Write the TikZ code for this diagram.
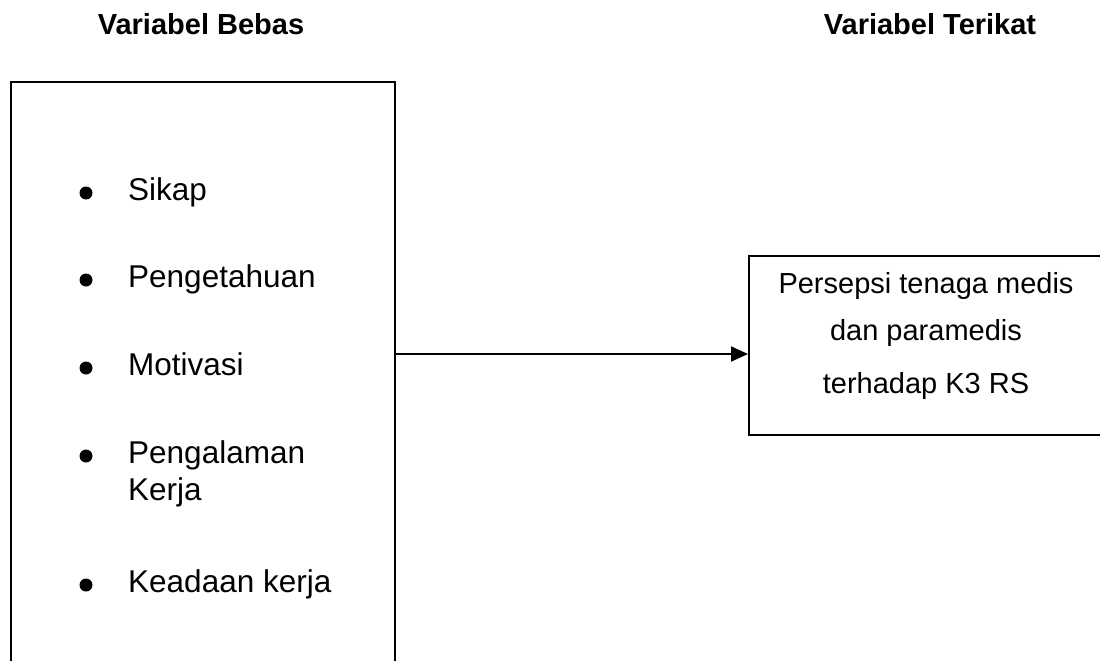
\documentclass[tikz,border=0pt]{standalone}
\usepackage{fontspec}
\setmainfont{Liberation Sans}
\usetikzlibrary{arrows.meta}
\begin{document}
\begin{tikzpicture}[x=1pt,y=-1pt,
  boxstyle/.style={draw,line width=2pt,inner sep=0pt,rectangle,anchor=north west},
  itemtext/.style={anchor=base west,inner sep=0pt,font=\fontsize{31.5}{37}\selectfont},
  bulletmark/.style={circle,fill=black,inner sep=0pt,minimum size=13pt},
  headtext/.style={anchor=base,inner sep=0pt,font=\fontsize{29}{34}\selectfont\bfseries},
  deptext/.style={anchor=base,inner sep=0pt,font=\fontsize{29}{34}\selectfont},
  arrowline/.style={line width=2pt,-{Triangle[length=17pt,width=15pt]}}]
\useasboundingbox (0,0) rectangle (1100,661);
% headers
\node[headtext] (hbebas) at (201,35) {Variabel Bebas};
\node[headtext] (hterikat) at (930,35) {Variabel Terikat};
% boxes
\node[boxstyle,minimum width=384pt,minimum height=620pt] (indep) at (10,81) {};
\node[boxstyle,minimum width=380pt,minimum height=179pt] (dep) at (748,255) {};
% bullet items
\node[bulletmark] (b1) at (86,193) {};
\node[itemtext] (t1) at (128,200) {Sikap};
\node[bulletmark] (b2) at (86,280) {};
\node[itemtext] (t2) at (128,287) {Pengetahuan};
\node[bulletmark] (b3) at (86,368) {};
\node[itemtext] (t3) at (128,375) {Motivasi};
\node[bulletmark] (b4) at (86,456) {};
\node[itemtext] (t4a) at (128,463) {Pengalaman};
\node[itemtext] (t4b) at (128,500) {Kerja};
\node[bulletmark] (b5) at (86,585) {};
\node[itemtext] (t5) at (128,592) {Keadaan kerja};
% dependent text
\node[deptext] (d1) at (926,293) {Persepsi tenaga medis};
\node[deptext] (d2) at (926,340) {dan paramedis};
\node[deptext] (d3) at (926,393) {terhadap K3 RS};
% arrow
\coordinate (astart) at (394,354);
\draw[arrowline] (astart) -- (astart -| dep.west);
\end{tikzpicture}
\end{document}
